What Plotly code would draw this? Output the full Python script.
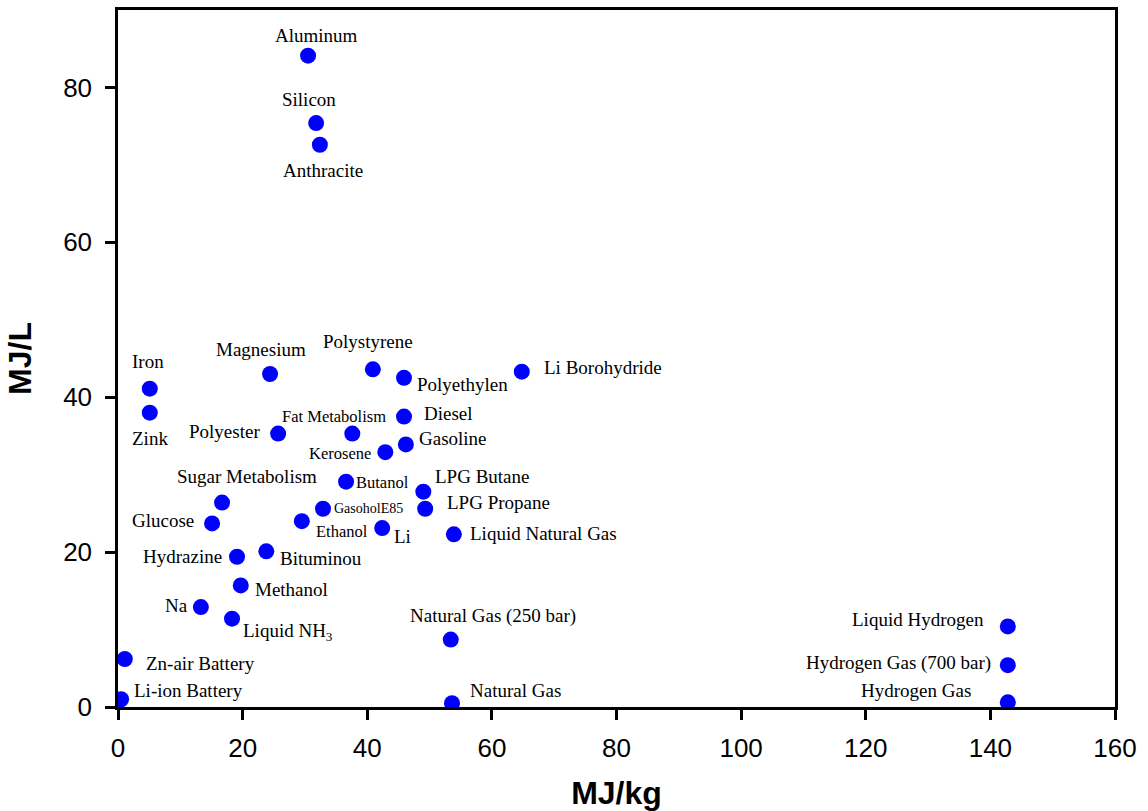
import plotly.graph_objects as go

names = ["Aluminum", "Silicon", "Anthracite", "Iron", "Zink", "Magnesium",
         "Polystyrene", "Polyethylen", "Li Borohydride", "Diesel", "Fat Metabolism",
         "Polyester", "Gasoline", "Kerosene", "Butanol", "LPG Butane", "LPG Propane",
         "Sugar Metabolism", "GasoholE85", "Glucose", "Ethanol", "Li",
         "Liquid Natural Gas", "Hydrazine", "Bituminou", "Methanol", "Na",
         "Liquid NH<sub>3</sub>", "Natural Gas (250 bar)", "Zn-air Battery",
         "Li-ion Battery", "Natural Gas", "Liquid Hydrogen",
         "Hydrogen Gas (700 bar)", "Hydrogen Gas"]
mj_per_kg = [30.5, 31.8, 32.4, 5.1, 5.1, 24.4,
             40.9, 45.9, 64.8, 45.9, 37.6,
             25.7, 46.2, 42.9, 36.6, 49.0, 49.3,
             16.7, 32.9, 15.1, 29.5, 42.4,
             53.9, 19.1, 23.8, 19.7, 13.3,
             18.3, 53.4, 1.1,
             0.5, 53.6, 142.8,
             142.8, 142.8]
mj_per_l = [84.1, 75.4, 72.6, 41.1, 38.0, 43.0,
            43.6, 42.5, 43.3, 37.5, 35.3,
            35.3, 33.9, 32.9, 29.1, 27.8, 25.6,
            26.4, 25.6, 23.7, 24.0, 23.1,
            22.3, 19.4, 20.1, 15.7, 12.9,
            11.4, 8.7, 6.2,
            1.0, 0.5, 10.4,
            5.4, 0.6]
x_ticks = [0, 20, 40, 60, 80, 100, 120, 140, 160]
y_ticks = [0, 20, 40, 60, 80]

# label placement: (xanchor, x pixel offset, y pixel offset (down +), font size)
label_style = {
    "Aluminum": ("center", 8, -20, 19),
    "Silicon": ("center", -7, -24, 19),
    "Anthracite": ("center", 3, 26, 19),
    "Iron": ("center", -2, -27, 19),
    "Zink": ("center", 0, 26, 19),
    "Magnesium": ("center", -9, -24, 19),
    "Polystyrene": ("center", -5, -28, 19),
    "Polyethylen": ("left", 11, 7, 19),
    "Li Borohydride": ("left", 20, -4, 19),
    "Diesel": ("left", 18, -3, 19),
    "Fat Metabolism": ("center", -18, -17, 16.5),
    "Polyester": ("right", -16, -2, 19),
    "Gasoline": ("left", 11, -6, 19),
    "Kerosene": ("right", -12, 1, 16.5),
    "Butanol": ("left", 8, 1, 16.5),
    "LPG Butane": ("left", 10, -15, 19),
    "LPG Propane": ("left", 20, -6, 19),
    "Sugar Metabolism": ("center", 25, -26, 19),
    "GasoholE85": ("left", 9, 0, 14),
    "Glucose": ("right", -16, -3, 19),
    "Ethanol": ("left", 12, 10, 16.5),
    "Li": ("left", 10, 8, 19),
    "Liquid Natural Gas": ("left", 14, -1, 19),
    "Hydrazine": ("right", -13, 0, 19),
    "Bituminou": ("left", 12, 7, 19),
    "Methanol": ("left", 12, 4, 19),
    "Na": ("right", -11, -2, 19),
    "Liquid NH<sub>3</sub>": ("left", 9, 13, 19),
    "Natural Gas (250 bar)": ("center", 42, -24, 19),
    "Zn-air Battery": ("left", 19, 5, 19),
    "Li-ion Battery": ("left", 11, -9, 19),
    "Natural Gas": ("left", 16, -13, 19),
    "Liquid Hydrogen": ("right", -22, -7, 19),
    "Hydrogen Gas (700 bar)": ("right", -15, -2, 19),
    "Hydrogen Gas": ("right", -35, -12, 19),
}

serif = "Times New Roman, Liberation Serif, serif"
sans = "Arial, Liberation Sans, sans-serif"

fig = go.Figure()
fig.add_trace(go.Scatter(
    x=mj_per_kg, y=mj_per_l, mode="markers",
    marker=dict(size=16, color="#0000FF", line=dict(width=0)),
    hovertext=names, hoverinfo="text+x+y", showlegend=False,
))

annotations = []
for n, xv, yv in zip(names, mj_per_kg, mj_per_l):
    anchor, dx, dy, fs = label_style[n]
    annotations.append(dict(
        x=xv, y=yv, xref="x", yref="y", text=n, showarrow=False,
        xanchor=anchor, yanchor="middle", xshift=dx, yshift=-dy,
        font=dict(family=serif, size=fs, color="black"),
    ))

axis_common = dict(
    showline=True, linecolor="black", linewidth=2.5, mirror=True,
    ticks="outside", ticklen=10, tickwidth=2.5, tickcolor="black",
    showgrid=False, zeroline=False,
    tickfont=dict(family=sans, size=26, color="black"),
)

fig.update_layout(
    width=1148, height=811,
    margin=dict(l=118, r=33, t=10, b=104, autoexpand=False),
    paper_bgcolor="white", plot_bgcolor="white",
    annotations=annotations,
    xaxis=dict(range=[0, 160], tickvals=x_ticks,
               title=dict(text="<b>MJ/kg</b>", font=dict(family=sans, size=32, color="black"), standoff=22),
               ticklabelstandoff=6, **axis_common),
    yaxis=dict(range=[0, 90], tickvals=y_ticks,
               title=dict(text="<b>MJ/L</b>", font=dict(family=sans, size=32, color="black"), standoff=22),
               ticklabelstandoff=8, **axis_common),
)

fig.write_html("out.html", config={"displayModeBar": False},
               post_script="document.body.style.margin='0';document.body.style.overflow='hidden';")
